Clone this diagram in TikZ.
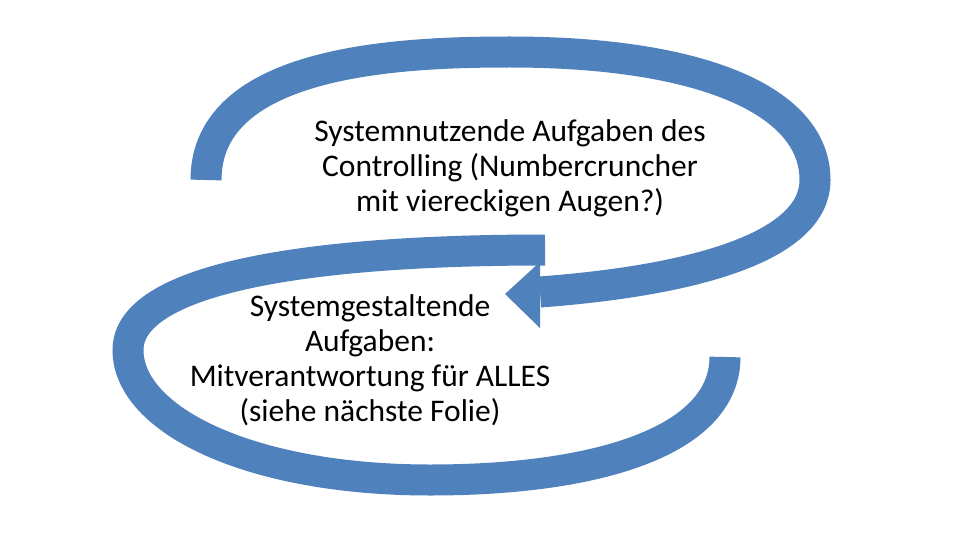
\documentclass[tikz,border=0pt]{standalone}
\usepackage{fontspec}
\setmainfont{Carlito}
\definecolor{ablue}{HTML}{4F81BD}
\begin{document}
\begin{tikzpicture}[x=1pt,y=-1pt,
  band/.style={draw=ablue,line width=31pt,line cap=butt},
  lbl/.style={align=center,font=\fontsize{31.5}{35}\selectfont,text=black,inner sep=0pt}]
\useasboundingbox[fill=white] (0,0) rectangle (960,540);
% bottom arrow
\coordinate (b0) at (725,357);
\coordinate (b1) at (430,480);
\coordinate (b2) at (128,350);
\coordinate (b3) at (545,250);
\draw[band] (b0) .. controls (725,440) and (600,480) .. (b1)
  .. controls (250,480) and (128,420) .. (b2)
  .. controls (128,280) and (300,250) .. (b3);
% top arrow
\coordinate (t0) at (206,180);
\coordinate (t1) at (510,52);
\coordinate (t2) at (815,180);
\coordinate (t3) at (540,292);
\draw[band] (t0) .. controls (206,60) and (400,52) .. (t1)
  .. controls (700,52) and (815,100) .. (t2)
  .. controls (815,245) and (700,280) .. (t3);
\fill[ablue] (540,262) -- (540,328) -- (505,294) -- cycle;
\node[lbl] (top) at (510,168) {Systemnutzende Aufgaben des\\Controlling (Numbercruncher\\mit viereckigen Augen?)};
\node[lbl] (bot) at (370,360) {Systemgestaltende\\Aufgaben:\\Mitverantwortung für ALLES\\(siehe nächste Folie)};
\end{tikzpicture}
\end{document}
